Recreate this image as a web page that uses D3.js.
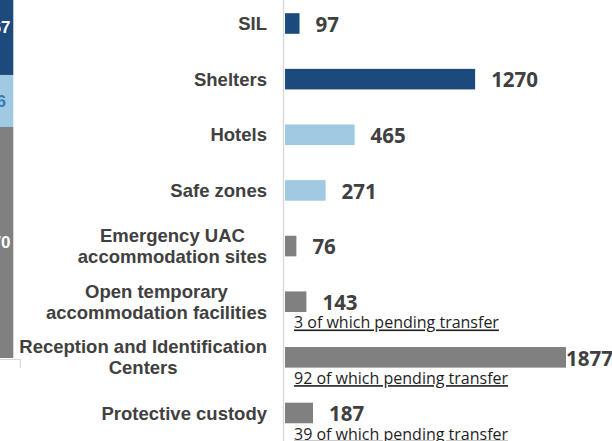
<!DOCTYPE html>
<html lang="en">
<head>
    <meta charset="UTF-8">
    <title>Accommodation by type</title>
    <script src="https://d3js.org/d3.v7.min.js"></script>
    <style>
        body { margin: 0; background: #fff; }
        svg { display: block; }
    </style>
</head>
<body>
    <div id="chart"></div>
    <script>
        // Bars (right panel)
        const categories = [
            "SIL",
            "Shelters",
            "Hotels",
            "Safe zones",
            "Emergency UAC\naccommodation sites",
            "Open temporary\naccommodation facilities",
            "Reception and Identification\nCenters",
            "Protective custody"
        ];
        const values = [97, 1270, 465, 271, 76, 143, 1877, 187];
        const groups = ["long", "long", "hotel", "hotel", "other", "other", "other", "other"];
        const pendingTransfer = [null, null, null, null, null, 3, 92, 39];

        // Stacked column (cropped, left edge), top to bottom
        const stackGroups = ["long", "hotel", "other"];
        const stackValues = [1367, 736, 3270];

        const width = 612, height = 441;

        const color = d3.scaleOrdinal()
            .domain(["long", "hotel", "other"])
            .range(["#1c4a7d", "#9fcae2", "#808080"]);
        const stackLabelColor = d3.scaleOrdinal()
            .domain(["long", "hotel", "other"])
            .range(["#ffffff", "#3a78b5", "#ffffff"]);

        const svg = d3.select("#chart")
            .append("svg")
            .attr("width", width)
            .attr("height", height);

        // scales
        const x = d3.scaleLinear()
            .domain([0, 1877])
            .range([285, 566]);

        const step = 55.64;
        const y = d3.scaleBand()
            .domain(categories)
            .range([23.5 - step / 2, 23.5 - step / 2 + step * categories.length])
            .paddingInner(0.63)
            .paddingOuter(0.315);

        // axis line
        svg.append("line")
            .attr("x1", 283.5).attr("x2", 283.5)
            .attr("y1", 0).attr("y2", height)
            .attr("stroke", "#d6d6d6")
            .attr("stroke-width", 1.3);

        // bars
        svg.selectAll("rect.bar")
            .data(categories)
            .enter()
            .append("rect")
            .attr("class", "bar")
            .attr("x", x(0))
            .attr("y", d => y(d))
            .attr("width", (d, i) => x(values[i]) - x(0))
            .attr("height", y.bandwidth())
            .attr("fill", (d, i) => color(groups[i]));

        // value labels
        svg.selectAll("text.val")
            .data(categories)
            .enter()
            .append("text")
            .attr("class", "val")
            .attr("y", d => y(d) + y.bandwidth() / 2 + 8.3)
            .style("font-family", "'Open Sans', sans-serif")
            .style("font-weight", "bold")
            .style("font-size", "20.5px")
            .attr("fill", "#404040")
            .text((d, i) => values[i])
            .each(function (d, i) {
                const w = this.getComputedTextLength();
                const end = x(values[i]);
                // label no longer fits after the gap: put it right at the bar end
                const gap = end + 16 + w > width ? 0 : 16;
                d3.select(this).attr("x", end + gap);
            });

        // pending transfer notes
        svg.selectAll("text.note")
            .data(categories.filter((d, i) => pendingTransfer[i] != null))
            .enter()
            .append("text")
            .attr("class", "note")
            .attr("x", x(0) + 9)
            .attr("y", d => y(d) + y.bandwidth() + 16.5)
            .style("font-family", "'Open Sans', sans-serif")
            .style("font-size", "16px")
            .style("text-decoration", "underline")
            .attr("fill", "#1e1e1e")
            .text(d => pendingTransfer[categories.indexOf(d)] + " of which pending transfer");

        // category labels (multi-line ones are centred on their widest line)
        const labelRight = 267, lineGap = 21;
        categories.forEach(c => {
            const lines = c.split("\n");
            const cy = y(c) + y.bandwidth() / 2;
            const g = svg.append("g");
            const texts = lines.map((ln, k) => g.append("text")
                .attr("y", cy + 6.6 + (k - (lines.length - 1) / 2) * lineGap)
                .style("font-family", "'Liberation Sans', Arial, sans-serif")
                .style("font-weight", "bold")
                .style("font-size", "18.5px")
                .attr("fill", "#404040")
                .attr("text-anchor", "middle")
                .text(ln));
            const maxW = d3.max(texts, t => t.node().getComputedTextLength());
            texts.forEach(t => t.attr("x", labelRight - maxW / 2));
        });

        // cropped stacked column on the left (first group on top)
        const stackRow = {};
        stackGroups.forEach((g, i) => stackRow[g] = stackValues[i]);
        const series = d3.stack()
            .keys(stackGroups)
            .order(d3.stackOrderReverse)([stackRow]);

        const ys = d3.scaleLinear()
            .domain([0, d3.sum(stackValues)])
            .range([358, 358 - d3.sum(stackValues) * (52 / 736)]);
        const colX = [-30, 13.3];

        svg.selectAll("rect.seg")
            .data(series)
            .enter()
            .append("rect")
            .attr("class", "seg")
            .attr("x", colX[0])
            .attr("width", colX[1] - colX[0])
            .attr("y", d => ys(d[0][1]))
            .attr("height", d => ys(d[0][0]) - ys(d[0][1]))
            .attr("fill", d => color(d.key));

        svg.selectAll("text.seg")
            .data(series)
            .enter()
            .append("text")
            .attr("class", "seg")
            .attr("x", (colX[0] + colX[1]) / 2)
            .attr("y", d => (ys(d[0][0]) + ys(d[0][1])) / 2 + 6)
            .attr("text-anchor", "middle")
            .style("font-family", "'Liberation Sans', Arial, sans-serif")
            .style("font-weight", "bold")
            .style("font-size", "17px")
            .attr("fill", d => stackLabelColor(d.key))
            .text(d => d[0][1] - d[0][0]);

        // corner of the frame under the column
        svg.append("path")
            .attr("d", `M0,${ys(0) + 1.5} H${colX[1] + 7} V${ys(0) + 10}`)
            .attr("fill", "none")
            .attr("stroke", "#d9d9d9")
            .attr("stroke-width", 1.2);
    </script>
</body>
</html>
